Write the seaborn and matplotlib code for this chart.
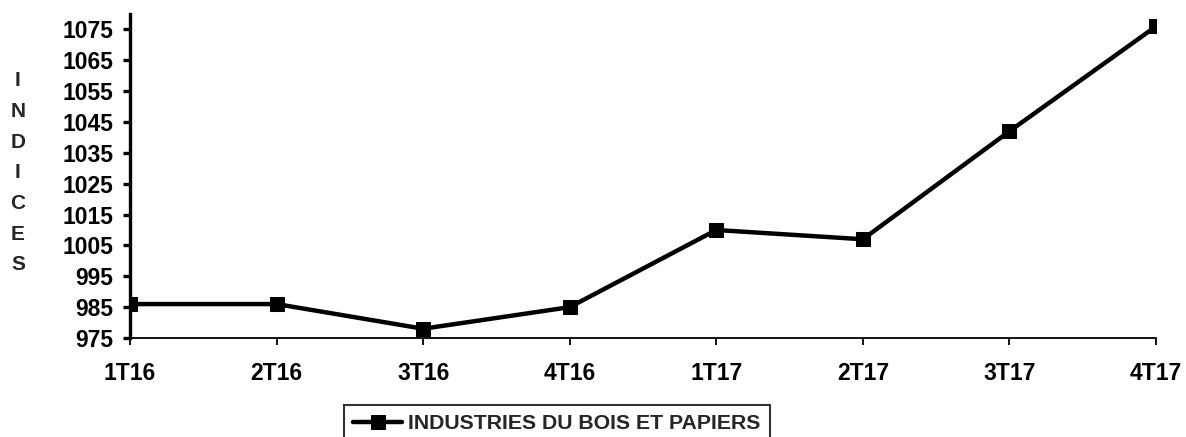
import matplotlib
matplotlib.use("Agg")
import matplotlib.pyplot as plt
import seaborn as sns
import pandas as pd

# Quarterly index values
quarters = ["1T16", "2T16", "3T16", "4T16", "1T17", "2T17", "3T17", "4T17"]
indices = [986, 986, 978, 985, 1010, 1007, 1042, 1076]
series_name = "INDUSTRIES DU BOIS ET PAPIERS"
y_ticks = [975, 985, 995, 1005, 1015, 1025, 1035, 1045, 1055, 1065, 1075]

sns.set_style("white")
plt.rcParams["font.family"] = ["Liberation Sans", "DejaVu Sans"]
plt.rcParams["font.weight"] = "bold"

df = pd.DataFrame({"trimestre": quarters, "indice": indices})

fig = plt.figure(figsize=(11.86, 4.37), dpi=100)
ax = fig.add_axes([130 / 1186, 1 - 338 / 437, (1156 - 130) / 1186, (338 - 14) / 437])

sns.lineplot(data=df, x="trimestre", y="indice", ax=ax, color="black",
             linewidth=3.2, marker="s", markersize=10, markeredgecolor="black",
             markerfacecolor="black", label=series_name, sort=False)

ax.set_xlim(0, 7)
ax.set_ylim(975, 1080)
ax.set_yticks(y_ticks)
ax.set_yticklabels([str(v) for v in y_ticks])

for s in ["top", "right"]:
    ax.spines[s].set_visible(False)
ax.spines["left"].set_linewidth(2.4)
ax.spines["left"].set_color("black")
ax.spines["bottom"].set_linewidth(1.3)
ax.spines["bottom"].set_color("black")

ax.tick_params(axis="y", direction="out", length=5, width=2.4, labelsize=16.5,
               pad=7, colors="black", left=True)
ax.tick_params(axis="x", direction="out", length=5, width=1.3, labelsize=16.5,
               pad=12, colors="black", bottom=True)
for lab in ax.get_xticklabels() + ax.get_yticklabels():
    lab.set_fontweight("bold")

ax.set_xlabel("")
ax.set_ylabel("I\nN\nD\nI\nC\nE\nS", rotation=0, fontsize=15, fontweight="bold",
              linespacing=1.78, labelpad=0, va="center", ha="center")
ax.yaxis.set_label_coords(-112 / 1026, 0.51)

leg = ax.legend(loc="upper center", bbox_to_anchor=(557 / 1186, 1 - 394 / 437),
                bbox_transform=fig.transFigure, frameon=True, fancybox=False,
                shadow=False, borderpad=0.45, handlelength=2.3, handletextpad=0.3,
                prop={"size": 15.3, "weight": "bold"})
leg.get_frame().set_edgecolor("black")
leg.get_frame().set_linewidth(1.5)

fig.savefig("out.png", dpi=100)
